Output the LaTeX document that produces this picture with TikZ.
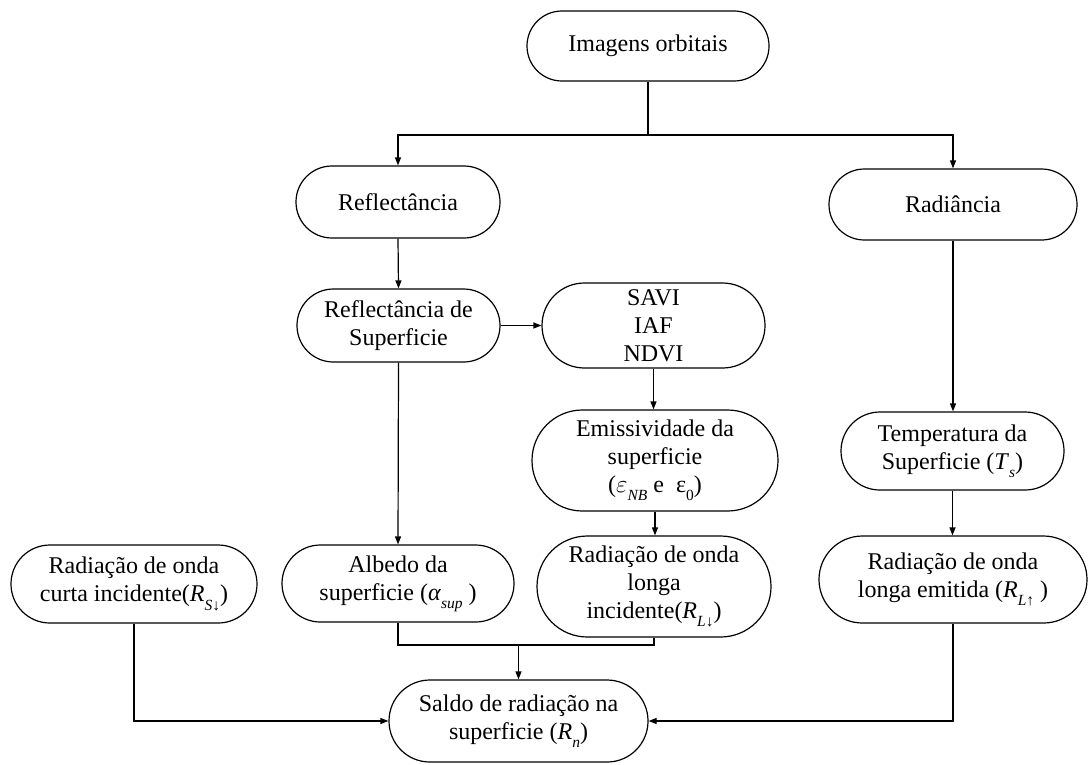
\documentclass[tikz,border=0pt]{standalone}
\usepackage{fontspec}
\setmainfont{Liberation Serif}
\usetikzlibrary{arrows.meta,calc}
% lowered small italic subscript
\newcommand{\lowsub}[1]{\raisebox{-0.75ex}{\fontsize{15.5}{15.5}\selectfont\itshape #1}}
\tikzset{
  box/.style={draw, line width=1.2pt, align=center, inner sep=0pt,
    font=\fontsize{24}{28}\selectfont},
  ln/.style={line width=1.2pt},
  arr/.style={line width=1.2pt, -{Triangle[length=8pt,width=6pt]}},
}
\begin{document}
\begin{tikzpicture}[x=1pt,y=-1pt]
\useasboundingbox (0,0) rectangle (1089,764);

% nodes
\node[box, minimum width=242pt, minimum height=70pt, rounded corners=34.9pt] (img) at (648,46) {Imagens orbitais};
\node[box, minimum width=204pt, minimum height=72pt, rounded corners=35.9pt] (refl) at (398,202) {Reflectância};
\node[box, minimum width=248pt, minimum height=71pt, rounded corners=35.4pt] (rad) at (953,204.5) {Radiância};
\node[box, minimum width=203pt, minimum height=73pt, rounded corners=36.4pt] (refsup) at (398.5,325.5) {Reflectância de\\Superficie};
\node[box, minimum width=223pt, minimum height=85pt, rounded corners=42.4pt] (savi) at (653.5,325.5) {SAVI\\IAF\\NDVI};
\node[box, minimum width=246pt, minimum height=101pt, rounded corners=50.4pt] (emiss) at (655,460.5) {Emissividade da\\superficie\\($\varepsilon$\lowsub{NB} e \ ε\lowsub{\upshape 0})};
\node[box, minimum width=223pt, minimum height=78pt, rounded corners=38.9pt] (temp) at (952.5,451) {Temperatura da\\Superficie (\textit{T}\lowsub{s})};
\node[box, minimum width=246pt, minimum height=78pt, rounded corners=38.9pt] (curta) at (134,584) {Radiação de onda\\curta incidente(\textit{R}\lowsub{S\upshape↓})};
\node[box, minimum width=232pt, minimum height=77pt, rounded corners=38.4pt] (alb) at (398,583.5) {Albedo da\\superficie (\textit{α}\lowsub{sup} )};
\node[box, minimum width=234pt, minimum height=101pt, rounded corners=50.4pt] (rli) at (654,586.5) {Radiação de onda\\longa\\incidente(\textit{R}\lowsub{L\upshape↓})};
\node[box, minimum width=268pt, minimum height=87pt, rounded corners=43.4pt] (rle) at (953,579.5) {Radiação de onda\\longa emitida (\textit{R}\lowsub{L\upshape↑} )};
\node[box, minimum width=259pt, minimum height=82pt, rounded corners=40.9pt] (saldo) at (518.5,721) {Saldo de radiação na\\superficie (\textit{R}\lowsub{n})};

% connectors
\coordinate (split) at (648,135);
\draw[line width=2pt] (img.south) -- (split);
\draw[arr] (split) -| (refl.north);
\draw[arr] (split) -| (rad.north);
\draw[arr] (refl.south) -- (refsup.north);
\draw[arr] (refsup.east) -- (savi.west);
\draw[arr] (savi.south) -- (savi.south |- emiss.north);
\draw[arr] (emiss.south) -- (emiss.south |- rli.north);
\draw[arr] (refsup.south) -- (alb.north);
\draw[arr] (rad.south) -- (rad.south |- temp.north);
\draw[arr] (temp.south) -- (temp.south |- rle.north);
\coordinate (bar) at (398,645);
\coordinate (merge) at (518.5,645);
\draw[ln] (alb.south) -- (bar) -| (rli.south);
\draw[arr] (merge) -- (saldo.north);
\draw[arr] (curta.south) |- (saldo.west);
\draw[arr] (rle.south) |- (saldo.east);
\end{tikzpicture}
\end{document}
